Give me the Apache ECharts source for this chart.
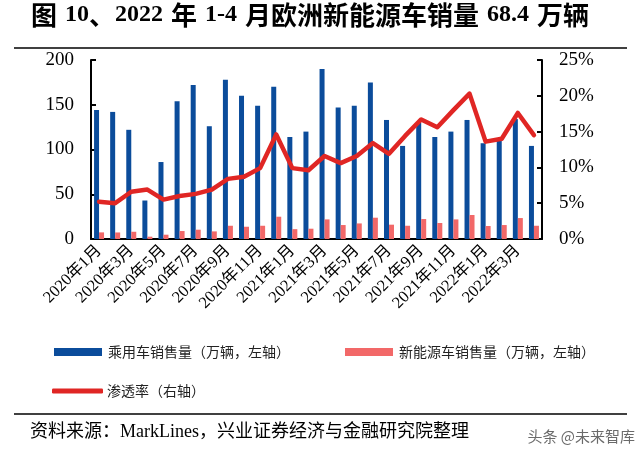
<!DOCTYPE html>
<html>
<head>
<meta charset="utf-8">
<script src="https://cdn.jsdelivr.net/npm/echarts@6/dist/echarts.min.js"></script>
<style>
html,body{margin:0;padding:0;background:#fff;}
#c{width:640px;height:463px;}
</style>
</head>
<body>
<div id="c"></div>
<script>
var categories = ["2020年1月","2020年2月","2020年3月","2020年4月","2020年5月","2020年6月","2020年7月","2020年8月","2020年9月","2020年10月","2020年11月","2020年12月","2021年1月","2021年2月","2021年3月","2021年4月","2021年5月","2021年6月","2021年7月","2021年8月","2021年9月","2021年10月","2021年11月","2021年12月","2022年1月","2022年2月","2022年3月","2022年4月"];
var passengerSales = [144,142,122,43,86,154,172,126,178,160,149,170,114,120,190,147,149,175,133,104,130,114,120,133,107,111,134,104];
var nevSales = [7.4,7.3,8.1,2.6,4.8,8.9,10.4,8.5,14.8,13.7,14.8,24.9,11,11.5,21.9,15.6,17.4,23.8,16,14.8,22.3,17.9,21.9,26.8,14.5,15.6,23.4,14.8];
var penetration = [5.2,5.0,6.6,6.9,5.5,6.0,6.3,6.9,8.4,8.7,9.9,14.6,9.9,9.6,11.6,10.6,11.6,13.4,11.9,14.4,16.7,15.6,18.0,20.3,13.6,14.0,17.6,14.5];
var leftTicks = [0,50,100,150,200];
var rightTicks = [0,5,10,15,20,25];
var seriesNames = ["乘用车销售量（万辆，左轴）","新能源车销售量（万辆，左轴）","渗透率（右轴）"];
var titleText = "图 10、2022 年 1-4 月欧洲新能源车销量 68.4 万辆";
var sourceText = "资料来源：MarkLines，兴业证券经济与金融研究院整理";

var SERIF = "'Liberation Serif','Times New Roman','Noto Sans CJK SC',serif";
var CJK = "'Noto Sans CJK SC','Liberation Serif',sans-serif";

// split title into CJK / latin / space runs for rich text styling
function richTitle(s){
  var out = '', cur = '', type = null;
  function flush(){ if(cur){ out += '{' + type + '|' + cur + '}'; cur=''; } }
  for (var i=0;i<s.length;i++){
    var ch = s[i];
    var t = ch === ' ' ? 's' : (/[\u3000-\u9fff\uff00-\uffef]/.test(ch) ? 'c' : 'l');
    if (t !== type){ flush(); type = t; }
    cur += ch;
  }
  flush();
  return out;
}

var chart = echarts.init(document.getElementById('c'), null, {renderer:'canvas'});
var axisLineStyle = {color:'#000', width:2};
chart.setOption({
  animation:false,
  backgroundColor:'#fff',
  grid:{left:91, right:98, top:60, bottom:224, containLabel:false},
  legend:[
    {data:[seriesNames[0]], left:49, top:340, itemWidth:48, itemHeight:8, itemGap:0, icon:'rect',
     textStyle:{fontFamily:CJK, fontSize:14, color:'#222', padding:[0,0,0,1]}},
    {data:[seriesNames[1]], left:340, top:340, itemWidth:48, itemHeight:8, itemGap:0, icon:'rect',
     textStyle:{fontFamily:CJK, fontSize:14, color:'#222', padding:[0,0,0,1]}},
    {data:[seriesNames[2]], left:47, top:379, itemWidth:51, itemHeight:5, itemGap:0, icon:'roundRect',
     textStyle:{fontFamily:CJK, fontSize:14, color:'#222', padding:[0,0,0,-1]}}
  ],
  xAxis:{
    type:'category', data:categories,
    axisLine:{show:true, lineStyle:axisLineStyle},
    axisTick:{show:false},
    axisLabel:{interval:1, rotate:45, margin:9, fontFamily:SERIF, fontSize:16.5, color:'#000'}
  },
  yAxis:[
    {type:'value', min:0, max:200, interval:50, position:'left',
     axisLine:{show:true, lineStyle:axisLineStyle},
     axisTick:{show:true, inside:true, length:5, lineStyle:axisLineStyle},
     axisLabel:{margin:17, fontFamily:SERIF, fontSize:19, color:'#000'},
     splitLine:{show:false}},
    {type:'value', min:0, max:25, interval:5, position:'right',
     axisLine:{show:true, lineStyle:axisLineStyle},
     axisTick:{show:true, inside:true, length:5, lineStyle:axisLineStyle},
     axisLabel:{margin:17, fontFamily:SERIF, fontSize:19, color:'#000', formatter:'{value}%'},
     splitLine:{show:false}}
  ],
  series:[
    {name:seriesNames[0], type:'bar', data:passengerSales, barWidth:5, barGap:'0%',
     itemStyle:{color:'#0B4C9B'}},
    {name:seriesNames[1], type:'bar', data:nevSales, barWidth:5, barGap:'0%',
     itemStyle:{color:'#F26868'}},
    {name:seriesNames[2], type:'line', yAxisIndex:1, data:penetration, symbol:'none', z:5,
     lineStyle:{color:'#E02624', width:4.5, join:'round', cap:'round'},
     itemStyle:{color:'#E02624'}}
  ],
  graphic:[
    {type:'text', left:31, top:2, style:{text:richTitle(titleText), fill:'#000',
      rich:{
        c:{fontFamily:CJK, fontWeight:'bold', fontSize:26, fill:'#000', lineHeight:29},
        l:{fontFamily:SERIF, fontWeight:'bold', fontSize:24, fill:'#000', lineHeight:29},
        s:{fontFamily:SERIF, fontSize:24, fill:'#000', lineHeight:29, padding:[0,1,0,1]}
      }}},
    {type:'line', shape:{x1:14, y1:48, x2:627, y2:48}, style:{stroke:'#000', lineWidth:1.5}},
    {type:'line', shape:{x1:14, y1:414, x2:627, y2:414}, style:{stroke:'#000', lineWidth:1.5}},
    {type:'text', left:30, top:423, style:{text:sourceText, font:"18px "+SERIF, fill:'#000'}},
    {type:'text', right:4, top:428, style:{text:'头条 @未来智库', font:"15px "+CJK, fill:'rgba(80,80,80,0.85)', stroke:'#fff', lineWidth:2}}
  ]
});
</script>
</body>
</html>
